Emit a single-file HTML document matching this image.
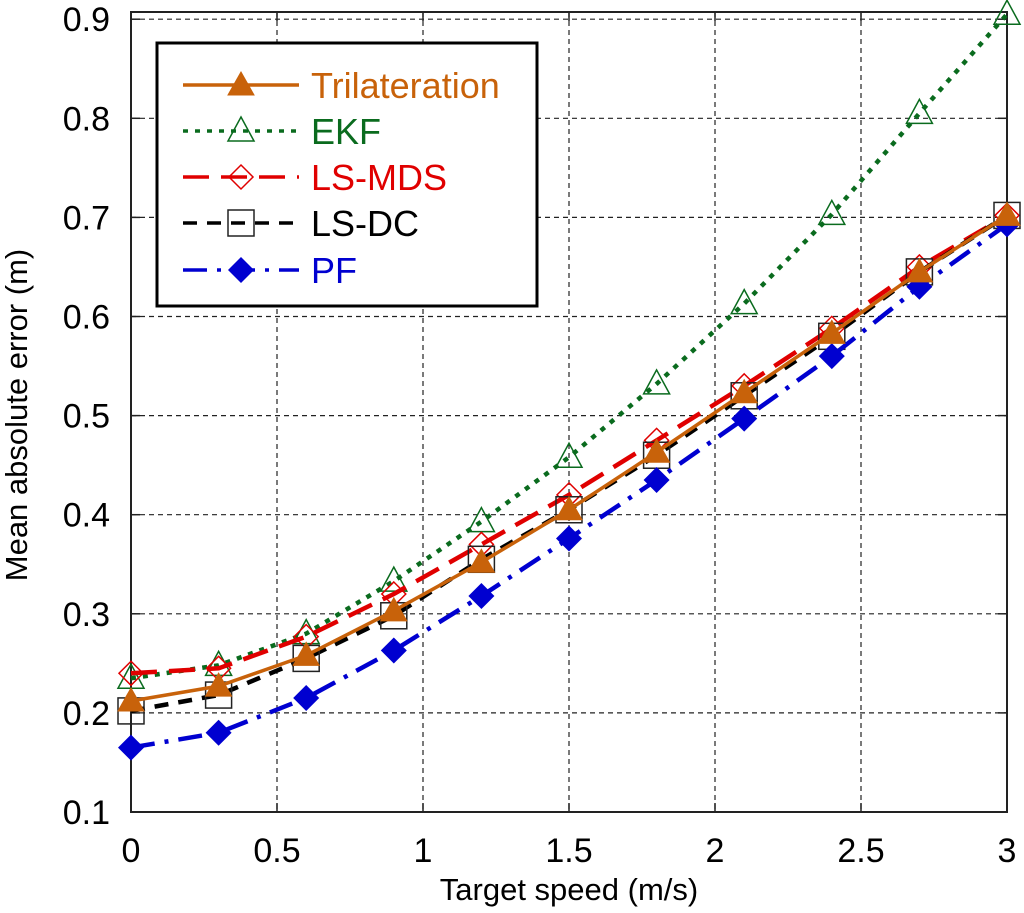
<!DOCTYPE html>
<html><head><meta charset="utf-8"><style>
html,body{margin:0;padding:0;background:#fff;}
svg{display:block;font-family:"Liberation Sans",Arial,sans-serif;}
</style></head><body>
<svg id="chart" width="1024" height="913"></svg>
<script>
const xVals=[0,0.3,0.6,0.9,1.2,1.5,1.8,2.1,2.4,2.7,3.0];
const trilat=[0.212,0.227,0.258,0.303,0.352,0.405,0.463,0.523,0.583,0.645,0.702];
const ekf=[0.235,0.248,0.280,0.333,0.393,0.458,0.532,0.613,0.703,0.805,0.905];
const lsmds=[0.240,0.245,0.277,0.320,0.370,0.420,0.475,0.530,0.588,0.650,0.702];
const lsdc=[0.202,0.218,0.255,0.298,0.355,0.405,0.460,0.520,0.580,0.645,0.702];
const pf=[0.165,0.180,0.215,0.263,0.318,0.376,0.435,0.497,0.560,0.630,0.693];
const xTicks=[0,0.5,1,1.5,2,2.5,3];
const xTickLabels=["0","0.5","1","1.5","2","2.5","3"];
const yTicks=[0.1,0.2,0.3,0.4,0.5,0.6,0.7,0.8,0.9];
const yTickLabels=["0.1","0.2","0.3","0.4","0.5","0.6","0.7","0.8","0.9"];

const L=131,R=1007,T=12,B=812;
const xs=v=>L+(v-0)/3*(R-L);
const ys=v=>812-(v-0.1)/0.1*99.1;
const svg=document.getElementById('chart');
const NS='http://www.w3.org/2000/svg';
function mk(tag,attrs,parent){const e=document.createElementNS(NS,tag);for(const k in attrs)e.setAttribute(k,attrs[k]);(parent||svg).appendChild(e);return e;}

const grid=mk('g',{});


xTicks.forEach(v=>{if(v>0&&v<3){const l=mk('line',{x1:xs(v),x2:xs(v),y1:T,y2:B,stroke:'#222','stroke-width':1.2,'stroke-dasharray':'5,4'},grid);}});
yTicks.forEach(v=>{if(v>0.1){const l=mk('line',{x1:L,x2:R,y1:ys(v),y2:ys(v),stroke:'#222','stroke-width':1.2,'stroke-dasharray':'5,4'},grid);}});
const fr=mk('rect',{x:L,y:T,width:R-L,height:B-T,fill:'none',stroke:'#222','stroke-width':2});


xTicks.forEach((v,i)=>{
 mk('line',{x1:xs(v),x2:xs(v),y1:B,y2:B-9,stroke:'#222','stroke-width':1.5});
 mk('line',{x1:xs(v),x2:xs(v),y1:T,y2:T+9,stroke:'#222','stroke-width':1.5});
 const t=mk('text',{x:xs(v),y:B+50,'font-size':34,'text-anchor':'middle',fill:'#000'});t.textContent=xTickLabels[i];
 
});
yTicks.forEach((v,i)=>{
 mk('line',{x1:L,x2:L+9,y1:ys(v),y2:ys(v),stroke:'#222','stroke-width':1.5});
 mk('line',{x1:R,x2:R-9,y1:ys(v),y2:ys(v),stroke:'#222','stroke-width':1.5});
 const t=mk('text',{x:L-21,y:ys(v)+12,'font-size':34,'text-anchor':'end',fill:'#000'});t.textContent=yTickLabels[i];
 
});
const xt=mk('text',{x:569,y:900,'font-size':31,'text-anchor':'middle',fill:'#000'});xt.textContent='Target speed (m/s)';

const yt=mk('text',{x:0,y:0,'font-size':31,'text-anchor':'middle',fill:'#000',transform:'translate(27,415) rotate(-90)'});yt.textContent='Mean absolute error (m)';


function marker(kind,cx,cy,color,parent){
 if(kind==='tri'){return mk('polygon',{points:`${cx},${cy-13} ${cx-13},${cy+10} ${cx+13},${cy+10}`,fill:color,stroke:color,'stroke-width':1},parent);}
 if(kind==='otri'){return mk('polygon',{points:`${cx},${cy-14} ${cx-13},${cy+10} ${cx+13},${cy+10}`,fill:'none',stroke:color,'stroke-width':1.5},parent);}
 if(kind==='odia'){return mk('polygon',{points:`${cx},${cy-12} ${cx+12},${cy} ${cx},${cy+12} ${cx-12},${cy}`,fill:'none',stroke:color,'stroke-width':1.5},parent);}
 if(kind==='sq'){return mk('rect',{x:cx-13,y:cy-13,width:26,height:26,fill:'none',stroke:'#222','stroke-width':1.5},parent);}
 if(kind==='dia'){return mk('polygon',{points:`${cx},${cy-13} ${cx+13},${cy} ${cx},${cy+13} ${cx-13},${cy}`,fill:color},parent);}
}
const series=[
 {name:'ekf',vals:ekf,color:'#0a6b1e',dash:'5,7',w:4.5,m:'otri'},
 {name:'lsmds',vals:lsmds,color:'#e00000',dash:'26,12',w:4.5,m:'odia'},
 {name:'lsdc',vals:lsdc,color:'#000',dash:'14,10',w:4.5,m:'sq'},
 {name:'pf',vals:pf,color:'#0000d0',dash:'24,10,4,10',w:4.5,m:'dia'},
 {name:'trilateration',vals:trilat,color:'#c8620a',dash:'',w:3.5,m:'tri'}
];
series.forEach(s=>{
 const g=mk('g',{});
 
 
 const pts=s.vals.map((v,i)=>xs(xVals[i])+','+ys(v)).join(' ');
 const pl=mk('polyline',{points:pts,fill:'none',stroke:s.color,'stroke-width':s.w,'stroke-dasharray':s.dash},g);
 
 s.vals.forEach((v,i)=>{const m=marker(s.m,xs(xVals[i]),ys(v),s.color,g);
  });
});
const lg=mk('g',{});


mk('rect',{x:157,y:43,width:380,height:263,fill:'#fff',stroke:'#000','stroke-width':3},lg);
const leg=[
 {label:'Trilateration',color:'#c8620a',dash:'',m:'tri',y:85},
 {label:'EKF',color:'#0a6b1e',dash:'5,7',m:'otri',y:131},
 {label:'LS-MDS',color:'#e00000',dash:'26,12',m:'odia',y:177},
 {label:'LS-DC',color:'#000',dash:'14,10',m:'sq',y:223},
 {label:'PF',color:'#0000d0',dash:'24,10,4,10',m:'dia',y:270}
];
leg.forEach(e=>{
 const g=mk('g',{},lg);
 
 
 mk('line',{x1:183,x2:299,y1:e.y,y2:e.y,stroke:e.color,'stroke-width':3.5,'stroke-dasharray':e.dash},g);
 marker(e.m,241,e.y,e.color,g);
 const t=mk('text',{x:311,y:e.y+13,'font-size':36,fill:e.color},g);t.textContent=e.label;
});
</script>
</body></html>
